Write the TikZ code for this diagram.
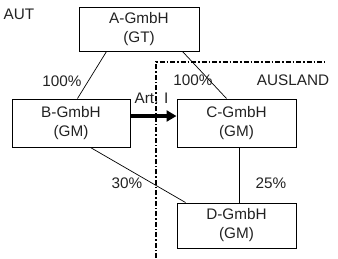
\documentclass[tikz,border=0pt]{standalone}
\usepackage{fontspec}
\setmainfont{Liberation Sans}
\usetikzlibrary{arrows.meta}
\definecolor{txt}{HTML}{222222}
\tikzset{
  firm/.style={draw=black, line width=1pt, rectangle, inner sep=0pt, align=center, text=txt,
    font=\fontsize{15.3}{19}\selectfont},
  lbl/.style={inner sep=0pt, text=txt, font=\fontsize{15.3}{17}\selectfont},
  link/.style={draw=black, line width=0.7pt},
  border/.style={draw=black, line width=2pt, dash pattern=on 5pt off 2pt on 1.5pt off 2pt},
}
\begin{document}
\begin{tikzpicture}[x=1pt,y=-1pt]
\useasboundingbox (0,0) rectangle (338,258);
\node[firm, minimum width=120pt, minimum height=44pt] (A) at (139,29) {A-GmbH\\(GT)};
\node[firm, minimum width=118pt, minimum height=48pt] (B) at (71,123) {B-GmbH\\(GM)};
\node[firm, minimum width=119pt, minimum height=48pt] (C) at (236.5,123) {C-GmbH\\(GM)};
\node[firm, minimum width=119pt, minimum height=45pt] (D) at (236.5,225.5) {D-GmbH\\(GM)};

\node[lbl] (aut) at (19,14) {AUT};
\node[lbl] (pAB) at (62,81) {100\%};
\node[lbl] (pAC) at (193,80) {100\%};
\node[lbl] (ausland) at (293,80) {AUSLAND};
\node[lbl, anchor=base west] (art) at (134.5,103) {Art. I};
\node[lbl] (pBD) at (127,183) {30\%};
\node[lbl] (pCD) at (271,183) {25\%};

\draw[link] ([xshift=28pt]A.south west) -- ([xshift=66pt]B.north west);
\draw[link] ([xshift=104pt]A.south west) -- ([xshift=50pt]C.north west);
\draw[link] ([xshift=79pt]B.south west) -- ([xshift=9pt]D.north west);
\coordinate (cd1) at ([xshift=2.5pt]C.south);
\draw[link] (cd1) -- (cd1 |- D.north);

\draw[line width=3.5pt, -{Triangle[length=10pt,width=11pt]}] ([yshift=7pt]B.east) -- ([yshift=7pt]C.west);

\coordinate (corner) at (156,62);
\coordinate (bottomend) at (156,258);
\coordinate (rightend) at (325,62);
\draw[border] (bottomend) -- (corner) -- (rightend);
\end{tikzpicture}
\end{document}
